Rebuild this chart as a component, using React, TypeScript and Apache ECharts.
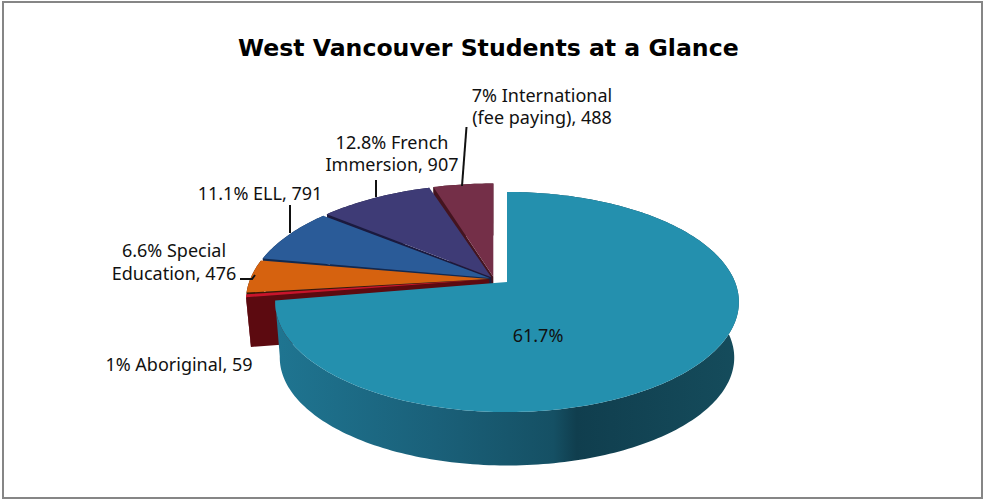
import React, { useEffect, useRef } from "react";
import * as echarts from "echarts";

const titleText = "West Vancouver Students at a Glance";
const categories = ["Students", "Aboriginal", "Special Education", "ELL", "French Immersion", "International (fee paying)"];
const sliceValues = [7100, 59, 476, 791, 907, 488];
const topColors = ["#2490ae", "#c8142c", "#d6620f", "#2a5b98", "#3e3b76", "#742f48"];
const wallColors = ["#1a6078", "#5c0a10", "#3a1a06", "#12294f", "#1b1a3e", "#44141f"];
const labelFont = "Noto Sans";

const total = sliceValues.reduce((a, b) => a + b, 0);
const startAngles: number[] = [];
sliceValues.reduce((acc, v, i) => {
  startAngles[i] = acc;
  return acc + (v / total) * Math.PI * 2;
}, 0);

const mainDisc = { cx: 507, cy: 282, a: 228, b: 106.4, k: 0.182, depth: 56, explode: 0, gap: 0 };
const sideDisc = { cx: 494, cy: 279, a: 239, b: 111, k: 0.182, depth: 50, explode: 0.02, gap: 0.012 };

function makeProjector(d: typeof mainDisc, mid: number) {
  return (theta: number, r: number, bottom: boolean): number[] => {
    const u = d.explode * Math.sin(mid) + r * Math.sin(theta);
    const v = -d.explode * Math.cos(mid) - r * Math.cos(theta);
    const w = 1 - d.k * v;
    const s = bottom ? 0.98 : 1;
    return [d.cx + (s * d.a * u) / w, d.cy + (s * d.b * v) / w + (bottom ? d.depth : 0)];
  };
}

function arcPoints(p: (t: number, r: number, b: boolean) => number[], from: number, to: number, bottom: boolean) {
  const n = Math.max(4, Math.ceil(Math.abs(to - from) / 0.02));
  const pts: number[][] = [];
  for (let i = 0; i <= n; i++) pts.push(p(from + ((to - from) * i) / n, 1, bottom));
  return pts;
}

function renderSlice(_params: any, api: any) {
  const i = api.value(0) as number;
  const value = api.value(1) as number;
  const disc = i === 0 ? mainDisc : sideDisc;
  const start = startAngles[i] + disc.gap;
  const end = startAngles[i] + (value / total) * Math.PI * 2;
  const mid = (start + end) / 2;
  const p = makeProjector(disc, mid);
  const children: any[] = [];
  const outerTop = arcPoints(p, start, end, false);
  const outerBottom = arcPoints(p, start, end, true);
  const wallFill =
    i === 0
      ? new echarts.graphic.LinearGradient(0, 0, 1, 0, [
          { offset: 0, color: "#1f7591" },
          { offset: 0.35, color: "#1a6079" },
          { offset: 0.6, color: "#155064" },
          { offset: 0.65, color: "#103e4e" },
          { offset: 1, color: "#154c5c" },
        ])
      : wallColors[i];
  if (i !== 0) {
    children.push({
      type: "polygon",
      shape: { points: [p(start, 0, false), p(start, 1, false), p(start, 1, true), p(start, 0, true)] },
      style: { fill: wallColors[i] },
    });
  }
  children.push({
    type: "polygon",
    shape: { points: [...outerTop, ...outerBottom.slice().reverse()] },
    style: { fill: wallFill },
  });
  children.push({
    type: "polygon",
    shape: { points: [p(start, 0, false), ...outerTop] },
    style: { fill: topColors[i] },
  });
  return { type: "group", children };
}

const labelLines: { text: string; x: number; y: number }[] = [
  { text: "7% International", x: 542, y: 95 },
  { text: "(fee paying), 488", x: 542, y: 117 },
  { text: "12.8% French", x: 392, y: 142 },
  { text: "Immersion, 907", x: 392, y: 164 },
  { text: "11.1% ELL, 791", x: 260, y: 193 },
  { text: "6.6% Special", x: 174, y: 250 },
  { text: "Education, 476", x: 174, y: 273 },
  { text: "1% Aboriginal, 59", x: 179, y: 364 },
  { text: "61.7%", x: 538, y: 335 },
];

const leaders: number[][][] = [
  [[466.5, 127], [462, 186]],
  [[376, 180], [376, 197]],
  [[290, 205], [290, 233]],
  [[240, 279], [252, 279], [255, 275]],
];

export default function App() {
  const ref = useRef<HTMLDivElement>(null);
  useEffect(() => {
    document.body.style.margin = "0";
    const chart = echarts.init(ref.current!, null, { renderer: "svg" });
    chart.setOption({
      animation: false,
      backgroundColor: "#ffffff",
      title: {
        text: titleText,
        left: 238,
        top: 36,
        padding: 0,
        textStyle: { fontFamily: "DejaVu Sans", fontSize: 23.6, fontWeight: "bold", color: "#000000" },
      },
      series: [
        {
          type: "custom",
          coordinateSystem: "none",
          silent: true,
          renderItem: renderSlice,
          data: sliceValues.map((v, i) => ({ name: categories[i], value: [i, v] })).reverse(),
        },
      ],
      graphic: [
        {
          type: "rect",
          silent: true,
          shape: { x: 3, y: 2, width: 979, height: 496 },
          style: { fill: "none", stroke: "#868686", lineWidth: 2 },
          z: 0,
        },
        ...leaders.map((points) => ({
          type: "polyline",
          silent: true,
          shape: { points },
          style: { fill: "none", stroke: "#111111", lineWidth: 2 },
          z: 10,
        })),
        ...labelLines.map((l) => ({
          type: "text",
          silent: true,
          x: l.x,
          y: l.y,
          style: {
            text: l.text,
            fontFamily: labelFont,
            fontSize: 18,
            fill: "#111111",
            align: "center",
            verticalAlign: "middle",
          },
          z: 10,
        })),
      ],
    });
    return () => chart.dispose();
  }, []);
  return <div ref={ref} style={{ position: "absolute", left: 0, top: 0, width: 983, height: 499 }} />;
}
